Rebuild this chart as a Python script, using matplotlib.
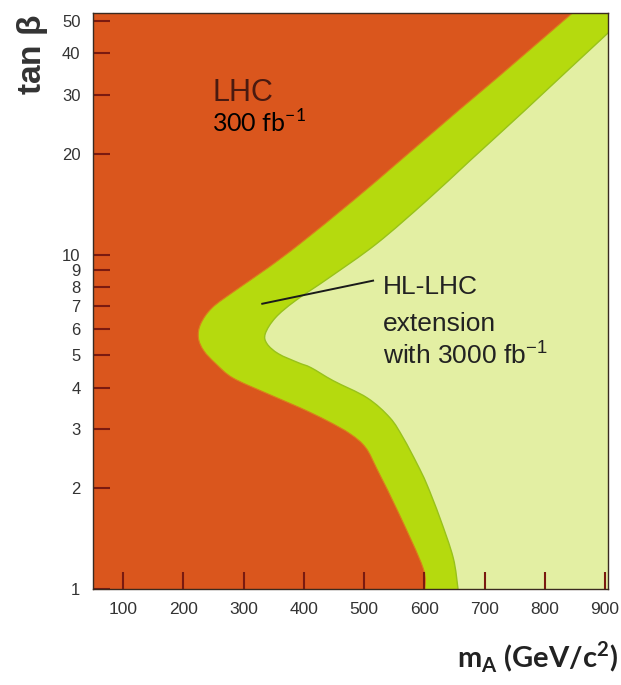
import matplotlib
matplotlib.use("Agg")
import matplotlib.pyplot as plt
import numpy as np
from matplotlib.path import Path
from matplotlib.patches import PathPatch

# boundary between LHC 300 fb-1 reach and the HL-LHC band (m_A, tan beta)
inner_m = [601, 598, 558, 523, 503, 477, 439, 394, 336, 282, 254, 234, 225, 229, 248, 286, 341, 394, 482, 560, 657, 722, 846]
inner_t = [1.0, 1.156, 1.68, 2.256, 2.644, 2.911, 3.184, 3.483, 3.864, 4.282, 4.718, 5.159, 5.642, 6.215, 6.939,
           7.804, 9.145, 10.79, 14.51, 19.11, 27.0, 33.9, 52.8]

# outer edge of the HL-LHC 3000 fb-1 extension
outer_m = [656, 648, 626, 604, 588, 565, 543, 505, 449, 412, 391, 358, 339, 336, 353, 386, 442, 521, 604, 676, 767, 901, 944]
outer_t = [1.0, 1.24, 1.63, 2.06, 2.368, 2.832, 3.251, 3.731, 4.195, 4.59, 4.75, 5.05, 5.41, 5.80, 6.48, 7.28,
           8.53, 10.79, 14.51, 19.11, 27.0, 45.3, 52.8]

x_ticks = [100, 200, 300, 400, 500, 600, 700, 800, 900]
y_ticks = [1, 2, 3, 4, 5, 6, 7, 8, 9, 10, 20, 30, 40, 50]

# pointer line from the band to the label
pointer_m = [331, 515]
pointer_t = [7.13, 8.36]

orange = "#DA561D"
green = "#B5DA0E"
light = "#E3EFA3"
tick_col = "#7A1A10"


def smooth_curve(ms, ts):
    # catmull-rom -> cubic bezier, worked out in (m, log t) so it follows the log axis
    p = np.column_stack([ms, np.log10(ts)])
    p = np.vstack([p[0], p, p[-1]])
    verts = [p[1]]
    codes = [Path.LINETO]
    for i in range(1, len(p) - 2):
        c1 = p[i] + (p[i + 1] - p[i - 1]) / 6
        c2 = p[i + 1] - (p[i + 2] - p[i]) / 6
        verts += [c1, c2, p[i + 1]]
        codes += [Path.CURVE4] * 3
    verts = np.array(verts)
    verts[:, 1] = 10 ** verts[:, 1]
    return verts, codes


def region_left_of(ms, ts, x0):
    verts, codes = smooth_curve(ms, ts)
    v = np.vstack([[x0, ts[0]], verts, [x0, ts[-1]], [x0, ts[0]]])
    c = [Path.MOVETO] + codes + [Path.LINETO, Path.CLOSEPOLY]
    return Path(v, c)


def edge_of(ms, ts):
    verts, codes = smooth_curve(ms, ts)
    codes = [Path.MOVETO] + codes[1:]
    return Path(verts, codes)


fig = plt.figure(figsize=(6.21, 6.85), dpi=100)
ax = fig.add_axes([93 / 621, 1 - 589 / 685, 515 / 621, 576 / 685])
ax.set_yscale("log")
ax.set_xlim(50, 905)
ax.set_ylim(1, 52.8)
ax.set_facecolor(light)

xmin = ax.get_xlim()[0] - 20
ax.add_patch(PathPatch(region_left_of(outer_m, outer_t, xmin), facecolor=green, lw=0))
ax.add_patch(PathPatch(edge_of(outer_m, outer_t), fill=False, edgecolor="#98C21A", lw=1.0))
ax.add_patch(PathPatch(region_left_of(inner_m, inner_t, xmin), facecolor=orange, lw=0))
ax.add_patch(PathPatch(edge_of(inner_m, inner_t), fill=False, edgecolor="#D8821A", lw=0.8))

ax.plot(pointer_m, pointer_t, color="#1a1a1a", lw=1.4)

ax.set_xticks(x_ticks)
ax.set_xticklabels([str(v) for v in x_ticks])
ax.set_yticks(y_ticks)
ax.set_yticklabels([str(v) for v in y_ticks])
ax.minorticks_off()
ax.tick_params(direction="in", length=12, width=1.5, color=tick_col,
               labelsize=12.5, labelcolor="#333333", pad=9)
ax.tick_params(axis="y", labelsize=12)
for lab in ax.get_xticklabels() + ax.get_yticklabels():
    lab.set_fontfamily("Liberation Sans")

for s in ax.spines.values():
    s.set_color("#3a2a20")
    s.set_linewidth(1.0)

ax.text(249, 28.9, "LHC", fontsize=22, color="#4A1A10", family="Liberation Sans", va="baseline")
ax.text(247, 23.2, r"300 fb$^{\mathregular{-1}}$", fontsize=18, color="black", family="Lato", va="baseline")

for txt, tb in [("HL-LHC", 7.64), ("extension", 5.92), (r"with 3000 fb$^{\mathregular{-1}}$", 4.71)]:
    ax.text(531, tb, txt, fontsize=19, color="#222222", family="Liberation Sans", va="baseline")

fig.text(32 / 621, 0.92, r"tan $\mathregular{\beta}$", rotation=90, fontsize=24, fontweight="bold",
         color="#333333", family="Liberation Sans", ha="center", va="center")
fig.text(618 / 621, 17 / 685, r"m$_{\mathregular{A}}$ (GeV/c$^{\mathregular{2}}$)", fontsize=21,
         fontweight="bold", color="#222222", family="Lato", ha="right", va="baseline")

fig.savefig("out.png", dpi=100)
